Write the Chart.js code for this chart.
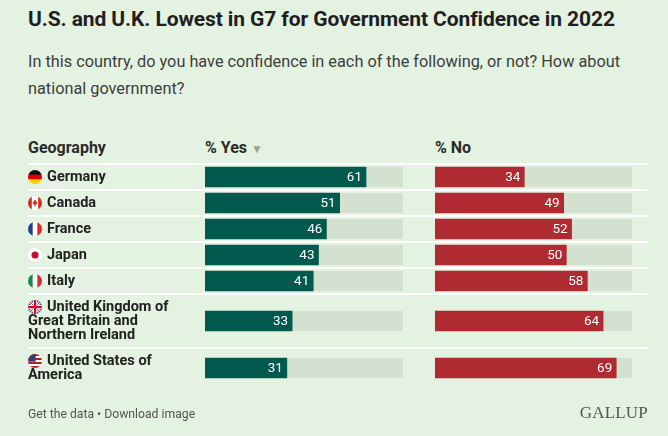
<!DOCTYPE html>
<html>
<head>
<meta charset="utf-8">
<script src="https://cdn.jsdelivr.net/npm/chart.js@4.4.1/dist/chart.umd.min.js"></script>
<style>
  html, body { margin: 0; padding: 0; }
  body { width: 668px; height: 436px; background: #e4f2e1; position: relative; overflow: hidden; font-family: Roboto, "Noto Sans", sans-serif; color: #1f1f1f; }
  #title { position: absolute; left: 28px; top: 7px; font-size: 21px; font-weight: 700; letter-spacing: -0.1px; white-space: nowrap; }
  #subtitle { position: absolute; left: 28px; top: 48px; width: 620px; font-size: 16.3px; line-height: 27px; color: #3d3d3d; }
  .head { position: absolute; top: 138px; font-size: 16px; line-height: 19px; font-weight: 700; color: #2a2a2a; }
  .head .arrow { color: #9aa39a; font-size: 12px; margin-left: 4px; }
  #footer { position: absolute; left: 28px; top: 407px; font-size: 12.2px; color: #555; }
  #logo { position: absolute; right: 20px; top: 403px; font-family: "Liberation Serif", serif; font-size: 17px; color: #555; letter-spacing: 0.2px; }
  canvas { position: absolute; left: 0; top: 0; }
</style>
</head>
<body>
<div id="title">U.S. and U.K. Lowest in G7 for Government Confidence in 2022</div>
<div id="subtitle">In this country, do you have confidence in each of the following, or not? How about national government?</div>
<div class="head" style="left:28px">Geography</div>
<div class="head" style="left:205px">% Yes<span class="arrow">&#9660;</span></div>
<div class="head" style="left:435px">% No</div>
<canvas id="yesChart" width="668" height="436"></canvas>
<canvas id="noChart" width="668" height="436"></canvas>
<div id="footer">Get the data &bull; Download image</div>
<div id="logo">GALLUP</div>
<script>
// Data
const countries = ['Germany', 'Canada', 'France', 'Japan', 'Italy',
    'United Kingdom of Great Britain and Northern Ireland', 'United States of America'];
const countryLines = [['Germany'], ['Canada'], ['France'], ['Japan'], ['Italy'],
    ['United Kingdom of', 'Great Britain and', 'Northern Ireland'], ['United States of', 'America']];
const flagCodes = ['de', 'ca', 'fr', 'jp', 'it', 'gb', 'us'];
const yesValues = [61, 51, 46, 43, 41, 33, 31];
const noValues = [34, 49, 52, 50, 58, 64, 69];
const scaleMax = 75;

// Row layout: a row grows 14px per extra label line
const lineHeight = 14;
const rowTops = [];
const rowCenters = [];
let total = 0;
countryLines.forEach(function (lines) {
    const h = 12 + lineHeight * lines.length;
    rowTops.push(total);
    rowCenters.push(total + h / 2);
    total += h;
});

const YES_COLOR = '#02594d';
const NO_COLOR = '#b02a31';
const TRACK_COLOR = '#d4e1d1';

function drawFlag(ctx, code, cx, cy, r) {
    ctx.save();
    ctx.beginPath();
    ctx.arc(cx, cy, r, 0, Math.PI * 2);
    ctx.clip();
    const x0 = cx - r, y0 = cy - r, d = r * 2;
    function vstripes(cols) {
        cols.forEach(function (c, i) {
            ctx.fillStyle = c;
            ctx.fillRect(x0 + d * i / cols.length, y0, d / cols.length + 0.5, d);
        });
    }
    function hstripes(cols) {
        cols.forEach(function (c, i) {
            ctx.fillStyle = c;
            ctx.fillRect(x0, y0 + d * i / cols.length, d, d / cols.length + 0.5);
        });
    }
    if (code === 'de') hstripes(['#111', '#dd0000', '#ffce00']);
    if (code === 'fr') vstripes(['#1d3f9a', '#ffffff', '#e1242e']);
    if (code === 'it') vstripes(['#1c8a46', '#ffffff', '#d52b35']);
    if (code === 'ca') {
        ctx.fillStyle = '#ffffff';
        ctx.fillRect(x0, y0, d, d);
        ctx.fillStyle = '#d52b1e';
        ctx.fillRect(x0, y0, d * 0.27, d);
        ctx.fillRect(x0 + d * 0.73, y0, d * 0.27, d);
        ctx.beginPath();
        ctx.moveTo(cx, cy - 3.5);
        ctx.lineTo(cx + 2.6, cy + 0.5);
        ctx.lineTo(cx + 0.6, cy + 1.5);
        ctx.lineTo(cx + 0.6, cy + 3.5);
        ctx.lineTo(cx - 0.6, cy + 3.5);
        ctx.lineTo(cx - 0.6, cy + 1.5);
        ctx.lineTo(cx - 2.6, cy + 0.5);
        ctx.closePath();
        ctx.fill();
    }
    if (code === 'jp') {
        ctx.fillStyle = '#ffffff';
        ctx.fillRect(x0, y0, d, d);
        ctx.fillStyle = '#c8102e';
        ctx.beginPath();
        ctx.arc(cx, cy, r * 0.5, 0, Math.PI * 2);
        ctx.fill();
    }
    if (code === 'gb') {
        ctx.fillStyle = '#25307a';
        ctx.fillRect(x0, y0, d, d);
        ctx.strokeStyle = '#ffffff';
        ctx.lineWidth = 3;
        ctx.beginPath();
        ctx.moveTo(x0, y0); ctx.lineTo(x0 + d, y0 + d);
        ctx.moveTo(x0 + d, y0); ctx.lineTo(x0, y0 + d);
        ctx.stroke();
        ctx.strokeStyle = '#c8102e';
        ctx.lineWidth = 1;
        ctx.stroke();
        ctx.fillStyle = '#ffffff';
        ctx.fillRect(cx - 2.2, y0, 4.4, d);
        ctx.fillRect(x0, cy - 2.2, d, 4.4);
        ctx.fillStyle = '#c8102e';
        ctx.fillRect(cx - 1.2, y0, 2.4, d);
        ctx.fillRect(x0, cy - 1.2, d, 2.4);
    }
    if (code === 'us') {
        hstripes(['#b22234', '#fff', '#b22234', '#fff', '#b22234', '#fff', '#b22234']);
        ctx.fillStyle = '#3c3b6e';
        ctx.fillRect(x0, y0, d * 0.55, d * 0.55);
    }
    ctx.restore();
}

// Grey track behind each bar, full width of the scale
const trackPlugin = {
    id: 'track',
    beforeDatasetsDraw: function (chart) {
        const ctx = chart.ctx;
        const area = chart.chartArea;
        ctx.save();
        ctx.fillStyle = TRACK_COLOR;
        chart.getDatasetMeta(0).data.forEach(function (bar) {
            ctx.fillRect(area.left, bar.y - bar.height / 2, area.right - area.left, bar.height);
        });
        ctx.restore();
    }
};

// Value printed inside the end of each bar
const valuePlugin = {
    id: 'values',
    afterDatasetsDraw: function (chart) {
        const ctx = chart.ctx;
        const values = chart.data.datasets[0].data;
        ctx.save();
        ctx.fillStyle = '#ffffff';
        ctx.font = '13.5px Roboto, sans-serif';
        ctx.textAlign = 'right';
        ctx.textBaseline = 'middle';
        chart.getDatasetMeta(0).data.forEach(function (bar, i) {
            ctx.fillText(values[i].x, bar.x - 4, bar.y + 0.5);
        });
        ctx.restore();
    }
};

// White row separators, flags and country names (left chart only).
// The flag sits inline, so wrapped lines start under the flag.
const rowsPlugin = {
    id: 'rows',
    beforeDraw: function (chart) {
        const ctx = chart.ctx;
        const y = chart.scales.y;
        ctx.save();
        ctx.strokeStyle = '#ffffff';
        ctx.lineWidth = 2;
        rowTops.forEach(function (t) {
            const py = Math.round(y.getPixelForValue(t));
            ctx.beginPath();
            ctx.moveTo(28, py);
            ctx.lineTo(648, py);
            ctx.stroke();
        });
        ctx.restore();
    },
    afterDraw: function (chart) {
        const ctx = chart.ctx;
        const y = chart.scales.y;
        ctx.save();
        ctx.fillStyle = '#222';
        ctx.font = '700 14.5px Roboto, sans-serif';
        ctx.textAlign = 'left';
        ctx.textBaseline = 'middle';
        countryLines.forEach(function (lines, i) {
            const first = rowCenters[i] - (lines.length - 1) * lineHeight / 2;
            const py = y.getPixelForValue(first);
            drawFlag(ctx, flagCodes[i], 35, py, 7);
            lines.forEach(function (line, j) {
                ctx.fillText(line, j === 0 ? 47 : 28, py + j * lineHeight + 0.5);
            });
        });
        ctx.restore();
    }
};

function barChart(id, values, color, padding, plugins) {
    return new Chart(document.getElementById(id), {
        type: 'bar',
        data: {
            labels: countries,
            datasets: [{
                data: values.map(function (v, i) { return { x: v, y: rowCenters[i] }; }),
                backgroundColor: color,
                barThickness: 20,
                borderWidth: 0
            }]
        },
        options: {
            indexAxis: 'y',
            responsive: false,
            animation: false,
            layout: { padding: padding },
            plugins: { legend: { display: false }, tooltip: { enabled: false } },
            scales: {
                x: { type: 'linear', min: 0, max: scaleMax, display: false },
                y: { type: 'linear', min: 0, max: total, reverse: true, offset: false, display: false }
            }
        },
        plugins: plugins
    });
}

const pad = { top: 164, bottom: 436 - 164 - total };
barChart('yesChart', yesValues, YES_COLOR, Object.assign({ left: 205, right: 265 }, pad), [rowsPlugin, trackPlugin, valuePlugin]);
barChart('noChart', noValues, NO_COLOR, Object.assign({ left: 435, right: 36 }, pad), [trackPlugin, valuePlugin]);
</script>
</body>
</html>
